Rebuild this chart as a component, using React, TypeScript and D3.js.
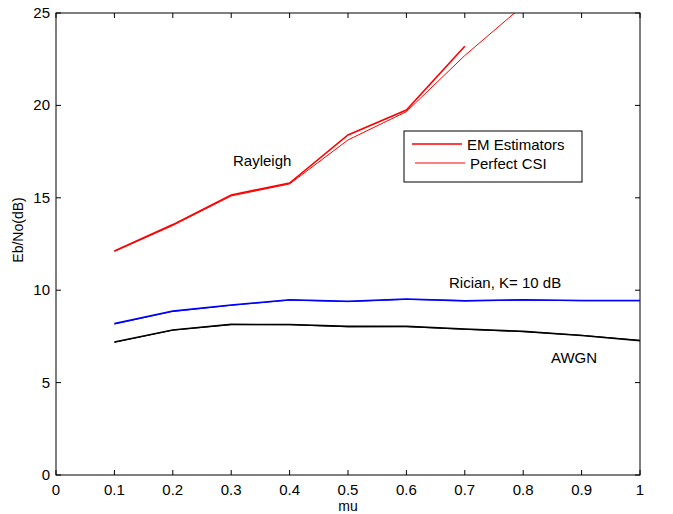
import * as d3 from 'd3';

const muValues = [0.1, 0.2, 0.3, 0.4, 0.5, 0.6, 0.7, 0.8, 0.9, 1.0];

const rayleighEM = [12.12, 13.55, 15.15, 15.8, 18.4, 19.75, 23.2];
const rayleighCSI = [12.1, 13.5, 15.1, 15.75, 18.13, 19.66, 22.7, 25.4];

const ricianEM = [8.19, 8.87, 9.2, 9.48, 9.4, 9.52, 9.42, 9.48, 9.44, 9.44];
const ricianCSI = [8.17, 8.85, 9.18, 9.46, 9.38, 9.5, 9.44, 9.46, 9.43, 9.43];

const awgnEM = [7.2, 7.85, 8.15, 8.14, 8.04, 8.04, 7.9, 7.77, 7.55, 7.27];
const awgnCSI = [7.18, 7.84, 8.14, 8.13, 8.02, 8.03, 7.88, 7.76, 7.56, 7.28];

const xTicks = [0, 0.1, 0.2, 0.3, 0.4, 0.5, 0.6, 0.7, 0.8, 0.9, 1];
const yTicks = [0, 5, 10, 15, 20, 25];

const legendItems = ['EM Estimators', 'Perfect CSI'];

const W = 673;
const H = 514;
const margin = { left: 56, right: 33, top: 13, bottom: 39 };
const FONT = '"Liberation Sans", Arial, Helvetica, sans-serif';

export default function App() {
  const x = d3.scaleLinear().domain([0, 1]).range([margin.left, W - margin.right]);
  const y = d3.scaleLinear().domain([0, 25]).range([H - margin.bottom, margin.top]);

  const line = d3
    .line<number>()
    .x((_, i) => x(muValues[i]))
    .y((d) => y(d));

  const x0 = x(0);
  const x1 = x(1);
  const y0 = y(0);
  const y1 = y(25);
  const tickLen = 5;

  const series = [
    { data: rayleighCSI, color: '#ff0000', width: 1 },
    { data: rayleighEM, color: '#ff0000', width: 1.6 },
    { data: ricianCSI, color: '#0000ff', width: 1 },
    { data: ricianEM, color: '#0000ff', width: 1.6 },
    { data: awgnCSI, color: '#000000', width: 1 },
    { data: awgnEM, color: '#000000', width: 1.6 },
  ];

  // legend box
  const lg = { x: 404, y: 131, w: 178, h: 51 };

  return (
    <svg
      width={W}
      height={H}
      style={{ position: 'absolute', left: 0, top: 0, background: '#fff' }}
      fontFamily={FONT}
    >
      <defs>
        <clipPath id="plot-clip">
          <rect x={x0} y={y1} width={x1 - x0} height={y0 - y1} />
        </clipPath>
      </defs>

      <g clipPath="url(#plot-clip)">
        {series.map((s, i) => (
          <path key={i} d={line(s.data) || ''} fill="none" stroke={s.color} strokeWidth={s.width} />
        ))}
      </g>

      {/* axes box */}
      <rect x={x0} y={y1} width={x1 - x0} height={y0 - y1} fill="none" stroke="#000" strokeWidth={1} />

      {xTicks.map((t) => (
        <g key={'x' + t}>
          <line x1={x(t)} x2={x(t)} y1={y0} y2={y0 - tickLen} stroke="#000" />
          <line x1={x(t)} x2={x(t)} y1={y1} y2={y1 + tickLen} stroke="#000" />
          <text x={x(t)} y={y0 + 20} textAnchor="middle" fontSize={15} fill="#000">
            {String(t)}
          </text>
        </g>
      ))}

      {yTicks.map((t) => (
        <g key={'y' + t}>
          <line x1={x0} x2={x0 + tickLen} y1={y(t)} y2={y(t)} stroke="#000" />
          <line x1={x1} x2={x1 - tickLen} y1={y(t)} y2={y(t)} stroke="#000" />
          <text x={x0 - 6} y={y(t) + 5} textAnchor="end" fontSize={15} fill="#000">
            {String(t)}
          </text>
        </g>
      ))}

      <text x={348} y={511} textAnchor="middle" fontSize={14} fill="#000">
        mu
      </text>
      <text
        transform={`translate(23,230) rotate(-90)`}
        textAnchor="middle"
        fontSize={14}
        fill="#000"
      >
        Eb/No(dB)
      </text>

      <text x={233} y={166} fontSize={15} fill="#000">
        Rayleigh
      </text>
      <text x={449} y={288} fontSize={15} fill="#000">
        Rician, K= 10 dB
      </text>
      <text x={551} y={363} fontSize={15} fill="#000">
        AWGN
      </text>

      <rect x={lg.x} y={lg.y} width={lg.w} height={lg.h} fill="#fff" stroke="#000" strokeWidth={1} />
      {legendItems.map((name, i) => (
        <g key={name}>
          <line
            x1={lg.x + 8 + i * 3}
            x2={lg.x + 58 + i * 3}
            y1={lg.y + 13 + i * 19}
            y2={lg.y + 13 + i * 19}
            stroke="#ff0000"
            strokeWidth={i === 0 ? 1.6 : 1}
          />
          <text x={lg.x + 63 + i * 3} y={lg.y + 19 + i * 19} fontSize={15} fill="#000">
            {name}
          </text>
        </g>
      ))}
    </svg>
  );
}
